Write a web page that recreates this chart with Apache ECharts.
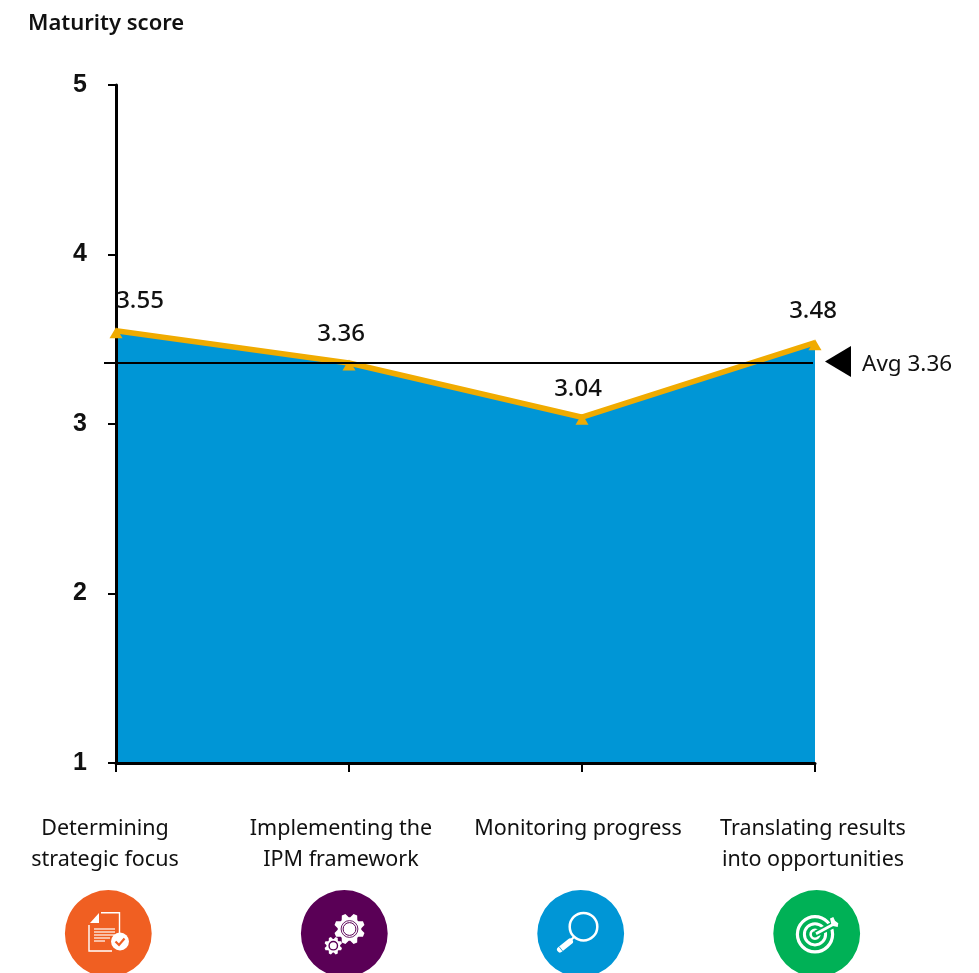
<!DOCTYPE html>
<html>
<head>
<meta charset="utf-8">
<style>html,body{margin:0;padding:0;background:#fff}#chart{width:979px;height:973px}</style>
<script src="https://cdn.jsdelivr.net/npm/echarts@6/dist/echarts.min.js"></script>
</head>
<body>
<div id="chart"></div>
<script>
// Maturity scores per capability area
const categories = ['Determining\nstrategic focus', 'Implementing the\nIPM framework', 'Monitoring progress', 'Translating results\ninto opportunities'];
const scores = [3.55, 3.36, 3.04, 3.48];
const average = 3.36;
const yTicks = [1, 2, 3, 4, 5];

// Label nudges, kept apart from the values
const categoryShift = [-11, -8, -4, -2];
const scoreLabelShift = [[24, -1], [-8, 0], [-4, 0], [-2, -3]];

const TEXT_FONT = '"Noto Sans", sans-serif';
const INK = '#111111';
const BLUE = '#0096d6';
const GOLD = '#f0ab00';

function gearPath(cx, cy, rOuter, rRoot, teeth) {
  const pts = [];
  const step = Math.PI * 2 / teeth;
  for (let i = 0; i < teeth; i++) {
    const a = i * step + step / 2;
    [[-0.42, rRoot], [-0.16, rOuter], [0.16, rOuter], [0.42, rRoot]].forEach(function (p) {
      pts.push([cx + p[1] * Math.cos(a + p[0] * step), cy + p[1] * Math.sin(a + p[0] * step)]);
    });
  }
  return pts;
}

function badge(cx, cy, fill) {
  return { type: 'circle', shape: { cx: cx, cy: cy, r: 43.4 }, style: { fill: fill }, silent: true, z: 10 };
}
function white(type, shape) {
  return { type: type, shape: shape, style: { fill: '#fff' }, silent: true, z: 11 };
}
function stroke(type, shape, color, width, cap) {
  return { type: type, shape: shape, style: { fill: 'none', stroke: color, lineWidth: width, lineCap: cap || 'butt' }, silent: true, z: 11 };
}
function on(el, z) { el.z = z; return el; }

const ORANGE = '#f05f22', PURPLE = '#5a0056', GREEN = '#00b156';

const documentIcon = [
  badge(108.3, 933.5, ORANGE),
  white('polygon', { points: [[90, 923], [99, 913], [99, 923]] }),
  stroke('polyline', { points: [[101, 912.7], [119.5, 912.7], [119.5, 933]] }, '#fff', 1.4),
  stroke('polyline', { points: [[89, 925], [89, 951], [112, 951]] }, '#fff', 1.4),
  stroke('line', { x1: 94, y1: 929, x2: 115, y2: 929 }, '#fff', 1.2),
  stroke('line', { x1: 94, y1: 932, x2: 115, y2: 932 }, '#fff', 1.2),
  stroke('line', { x1: 94, y1: 935, x2: 115, y2: 935 }, '#fff', 1.2),
  stroke('line', { x1: 94, y1: 938, x2: 110, y2: 938 }, '#fff', 1.2),
  stroke('line', { x1: 94, y1: 941, x2: 105, y2: 941 }, '#fff', 1.2),
  on(white('circle', { cx: 120, cy: 941.5, r: 9 }), 12),
  on(stroke('polyline', { points: [[115.5, 941.5], [119, 945], [124.5, 938.5]] }, ORANGE, 2.2), 13)
];

const gearsIcon = [
  badge(344.3, 933.5, PURPLE),
  white('polygon', { points: gearPath(349.5, 929, 15.5, 11.8, 8) }),
  on(stroke('circle', { cx: 349.5, cy: 929, r: 8.4 }, PURPLE, 0.9), 12),
  on(stroke('circle', { cx: 349.5, cy: 929, r: 6.4 }, PURPLE, 1), 12),
  on(white('circle', { cx: 349.5, cy: 929, r: 4 }), 13),
  white('polygon', { points: gearPath(333.3, 945.7, 9, 6.8, 8) }),
  on(stroke('circle', { cx: 333.3, cy: 945.7, r: 4.2 }, PURPLE, 1.4), 12)
];

const lensIcon = [
  badge(580.7, 933.5, BLUE),
  stroke('circle', { cx: 583.5, cy: 926.7, r: 13.8 }, '#fff', 2.5),
  stroke('line', { x1: 574, y1: 937, x2: 570, y2: 941 }, '#fff', 2.2),
  stroke('line', { x1: 570, y1: 941.5, x2: 560, y2: 949.5 }, '#fff', 6, 'round'),
  on(stroke('line', { x1: 559, y1: 946.5, x2: 563, y2: 951.5 }, BLUE, 0.8), 12)
];

const targetIcon = [
  badge(816.7, 933.5, GREEN),
  stroke('circle', { cx: 815, cy: 934.3, r: 17.6 }, '#fff', 3.2),
  stroke('circle', { cx: 815, cy: 934.3, r: 10.6 }, '#fff', 3),
  stroke('circle', { cx: 815, cy: 934.3, r: 4.4 }, '#fff', 2.6),
  on(stroke('line', { x1: 816, y1: 933.7, x2: 836, y2: 923.5 }, GREEN, 6.5), 12),
  on(stroke('line', { x1: 816, y1: 933.7, x2: 833, y2: 924.5 }, '#fff', 2.8), 13),
  on(white('polygon', { points: [[830, 918.5], [833.3, 917], [835, 920.7], [838.3, 923.3], [837.7, 927], [831.7, 925.7]] }), 13)
];

const chart = echarts.init(document.getElementById('chart'), null, { renderer: 'canvas' });

chart.setOption({
  animation: false,
  backgroundColor: '#fff',
  title: {
    text: 'Maturity score',
    left: 28,
    top: 13,
    padding: 0,
    textStyle: { fontFamily: TEXT_FONT, fontSize: 22, fontWeight: 600, color: INK }
  },
  grid: { left: 116, right: 164, top: 85, bottom: 210 },
  xAxis: {
    type: 'category',
    boundaryGap: false,
    z: 2,
    data: categories.map(function (c, i) {
      const shift = categoryShift[i];
      return { value: c, textStyle: { padding: [0, -2 * shift, 0, 0] } };
    }),
    axisLine: { lineStyle: { color: '#000', width: 3 } },
    axisTick: { show: true, length: 9, alignWithLabel: true, lineStyle: { color: '#000', width: 2 } },
    axisLabel: {
      interval: 0,
      margin: 50,
      fontFamily: TEXT_FONT,
      fontSize: 21.5,
      lineHeight: 31,
      color: INK
    }
  },
  yAxis: {
    type: 'value',
    min: yTicks[0],
    max: yTicks[yTicks.length - 1],
    interval: 1,
    z: 2,
    splitLine: { show: false },
    axisLine: { show: true, lineStyle: { color: '#000', width: 3 } },
    axisTick: { show: true, length: 8, lineStyle: { color: '#000', width: 2 } },
    axisLabel: {
      margin: 29,
      padding: [6, 0, 0, 0],
      fontFamily: '"Liberation Sans", Arial, sans-serif',
      fontSize: 25,
      fontWeight: 'bold',
      color: INK
    }
  },
  series: [
    {
      name: 'Score area',
      type: 'line',
      z: 1,
      data: scores,
      symbol: 'none',
      lineStyle: { width: 0 },
      areaStyle: { color: BLUE, opacity: 1 },
      markLine: {
        silent: true,
        animation: false,
        symbol: 'none',
        label: { show: false },
        lineStyle: { color: '#000', width: 2, type: 'solid' },
        data: [[{ x: 104, yAxis: average }, { x: 813, yAxis: average }]]
      },
      markPoint: {
        silent: true,
        animation: false,
        symbol: 'triangle',
        symbolSize: [31, 26],
        symbolRotate: 90,
        symbolOffset: [23, -1.5],
        itemStyle: { color: '#000' },
        label: {
          show: true,
          position: 'right',
          distance: 11,
          offset: [0, 3],
          formatter: 'Avg ' + average.toFixed(2),
          fontFamily: TEXT_FONT,
          fontSize: 22.5,
          color: INK
        },
        data: [{ coord: [3, average] }]
      }
    },
    {
      name: 'Score',
      type: 'line',
      z: 3,
      clip: false,
      symbol: 'triangle',
      symbolSize: [13, 11],
      symbolOffset: [0, 2],
      showAllSymbol: true,
      itemStyle: { color: GOLD },
      lineStyle: { color: GOLD, width: 5.5 },
      label: {
        show: true,
        position: 'top',
        distance: 13,
        fontFamily: TEXT_FONT,
        fontSize: 24,
        fontWeight: 500,
        color: INK,
        formatter: function (p) { return p.value.toFixed(2); }
      },
      data: scores.map(function (v, i) {
        return { value: v, label: { offset: scoreLabelShift[i] } };
      })
    }
  ],
  graphic: { elements: [].concat(documentIcon, gearsIcon, lensIcon, targetIcon) }
});
</script>
</body>
</html>
